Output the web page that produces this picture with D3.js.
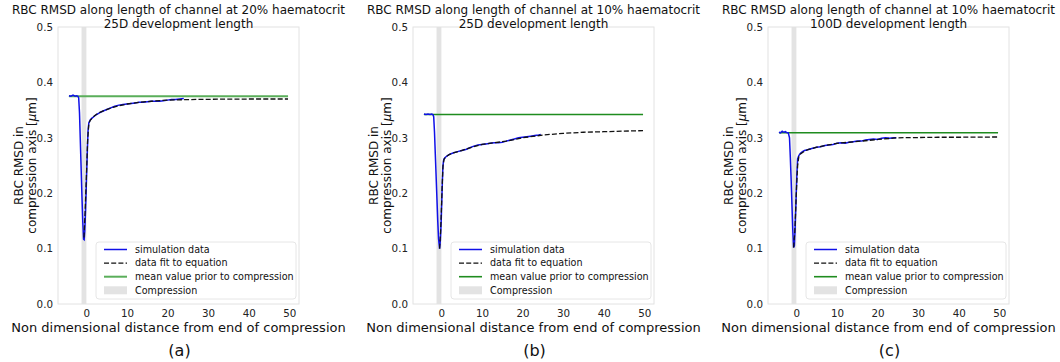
<!DOCTYPE html>
<html><head><meta charset="utf-8">
<script src="https://cdn.jsdelivr.net/npm/d3@7"></script>
<style>body{margin:0;background:#fff;} svg{display:block;font-family:"DejaVu Sans",sans-serif;}</style>
</head><body><svg id="c" width="1060" height="362"></svg>
<script>
// ---------- data ----------
const titles = [
  ["RBC RMSD along length of channel at 20% haematocrit", "25D development length"],
  ["RBC RMSD along length of channel at 10% haematocrit", "25D development length"],
  ["RBC RMSD along length of channel at 10% haematocrit", "100D development length"]
];
const panelLabels = ["(a)", "(b)", "(c)"];
const xTicks = [0, 10, 20, 30, 40, 50];
const yTicks = [0.0, 0.1, 0.2, 0.3, 0.4, 0.5];
const legendLabels = ["simulation data", "data fit to equation", "mean value prior to compression", "Compression"];
const compression = [-1.2, 0];          // compression region (x)
const meanRange = [-4.3, 49.7];         // extent of mean line

const meanA = 0.375, meanB = 0.342, meanC = 0.309;

const simXA = [-4.3,-3.8,-3.3,-2.8,-2.4,-2.1,-1.9,-1.7,-1.5,-1.3,-1.1,-0.9,-0.7,-0.55,-0.4,-0.2,0,0.2,0.4,0.6,0.9,1.3,1.8,2.5,3.2,4,5,6,7,8,9,10,11,12,13,14,15,16,17,18,19,20,21,22,23,24];
const simYA = [0.376,0.375,0.377,0.375,0.376,0.375,0.372,0.345,0.295,0.245,0.195,0.15,0.117,0.116,0.132,0.17,0.22,0.27,0.312,0.327,0.332,0.335,0.338,0.342,0.345,0.348,0.351,0.354,0.357,0.359,0.360,0.361,0.362,0.363,0.364,0.364,0.365,0.366,0.366,0.366,0.367,0.368,0.369,0.369,0.370,0.371];
const fitXA = [-0.6,-0.3,0,0.3,0.6,1,2,3,5,7,10,13,16,20,25,30,35,40,45,49.7];
const fitYA = [0.12,0.17,0.23,0.295,0.326,0.332,0.34,0.345,0.351,0.356,0.361,0.364,0.366,0.368,0.369,0.3695,0.3698,0.370,0.370,0.370];

const simXB = [-4.3,-3.8,-3.3,-2.8,-2.4,-2.1,-1.9,-1.7,-1.5,-1.3,-1.1,-0.9,-0.7,-0.45,-0.25,-0.05,0.15,0.35,0.5,0.65,1,1.5,2,3,4,5,6,7,8,9,10,11,12,13,14,15,16,17,18,19,20,21,22,23,24,24.5];
const simYB = [0.343,0.342,0.343,0.342,0.343,0.342,0.338,0.31,0.27,0.23,0.19,0.15,0.118,0.1,0.115,0.15,0.2,0.245,0.258,0.262,0.265,0.268,0.270,0.273,0.275,0.277,0.279,0.282,0.285,0.287,0.288,0.289,0.290,0.291,0.291,0.292,0.294,0.296,0.298,0.300,0.301,0.302,0.303,0.304,0.305,0.306];
const fitXB = [-0.45,-0.2,0,0.2,0.4,0.65,1,2,3,5,7,10,13,16,20,25,30,35,40,45,49.7];
const fitYB = [0.1,0.13,0.17,0.215,0.25,0.261,0.265,0.270,0.273,0.277,0.282,0.288,0.291,0.294,0.300,0.305,0.308,0.310,0.311,0.312,0.313];

const simXC = [-4.3,-3.9,-3.5,-3.1,-2.7,-2.3,-2.0,-1.7,-1.5,-1.3,-1.1,-0.9,-0.7,-0.5,-0.3,-0.1,0.1,0.3,0.6,1,1.5,2,3,4,5,6,7,8,9,10,11,12,13,14,15,16,17,18,19,20,21,22,23,24,24.6];
const simYC = [0.310,0.309,0.312,0.310,0.311,0.309,0.309,0.300,0.265,0.225,0.18,0.135,0.102,0.105,0.14,0.185,0.23,0.262,0.268,0.272,0.275,0.277,0.279,0.281,0.283,0.284,0.286,0.287,0.288,0.290,0.291,0.290,0.292,0.293,0.294,0.294,0.296,0.297,0.298,0.297,0.299,0.300,0.299,0.300,0.300];
const fitXC = [-0.7,-0.4,-0.2,0,0.3,0.6,1,2,3,5,7,10,13,16,20,25,30,35,40,45,49.7];
const fitYC = [0.102,0.13,0.165,0.205,0.25,0.266,0.271,0.276,0.279,0.283,0.286,0.290,0.292,0.294,0.297,0.300,0.3005,0.301,0.301,0.3012,0.3015];

const panels = [
  {mean: meanA, simX: simXA, simY: simYA, fitX: fitXA, fitY: fitYA, green: "#5aae5a", gw: 2},
  {mean: meanB, simX: simXB, simY: simYB, fitX: fitXB, fitY: fitYB, green: "#1f8c1f", gw: 1.6},
  {mean: meanC, simX: simXC, simY: simYC, fitX: fitXC, fitY: fitYC, green: "#1f8c1f", gw: 1.6}
];

// ---------- drawing ----------
const svg = d3.select("#c");
const lefts = [58, 413, 768];
const W = 241, pTop = 27, pBottom = 304;
const xDom = [-7.0, 52.4];

panels.forEach((p, i) => {
  const L = lefts[i];
  const x = d3.scaleLinear().domain(xDom).range([L, L + W]);
  const y = d3.scaleLinear().domain([0, 0.5]).range([pBottom, pTop]);
  const g = svg.append("g");

  // compression band
  g.append("rect").attr("x", x(compression[0])).attr("y", pTop)
    .attr("width", x(compression[1]) - x(compression[0])).attr("height", pBottom - pTop)
    .attr("fill", "#e3e3e3");

  // frame
  g.append("rect").attr("x", L).attr("y", pTop).attr("width", W).attr("height", pBottom - pTop)
    .attr("fill", "none").attr("stroke", "#e2e2e2").attr("stroke-width", 1);

  // axes
  const xa = g.append("g").attr("transform", `translate(0,${pBottom})`)
    .call(d3.axisBottom(x).tickValues(xTicks).tickSize(0).tickPadding(6).tickFormat(d3.format("d")));
  const ya = g.append("g").attr("transform", `translate(${L},0)`)
    .call(d3.axisLeft(y).tickValues(yTicks).tickSize(0).tickPadding(5).tickFormat(d3.format(".1f")));
  [xa, ya].forEach(a => {
    a.select(".domain").remove();
    a.selectAll("text").attr("font-size", 10.3).attr("fill", "#222").attr("font-family", "DejaVu Sans");
  });

  // mean line
  g.append("line").attr("x1", x(meanRange[0])).attr("x2", x(meanRange[1]))
    .attr("y1", y(p.mean)).attr("y2", y(p.mean))
    .attr("stroke", p.green).attr("stroke-width", p.gw);

  const line = d3.line().x(d => x(d[0])).y(d => y(d[1]));
  const sim = p.simX.map((v, k) => [v, p.simY[k]]);
  const fit = p.fitX.map((v, k) => [v, p.fitY[k]]);
  g.append("path").attr("d", line(sim)).attr("fill", "none").attr("stroke", "#1010e8").attr("stroke-width", 1.5);
  g.append("path").attr("d", line(fit)).attr("fill", "none").attr("stroke", "#111").attr("stroke-width", 1.3)
    .attr("stroke-dasharray", "5,2.2");

  // titles
  titles[i].forEach((t, k) => {
    g.append("text").attr("x", L + W / 2).attr("y", 14 + k * 14).attr("text-anchor", "middle")
      .attr("font-size", 12).attr("fill", "#111").text(t);
  });

  // y label (two lines)
  const cyMid = (pTop + pBottom) / 2;
  g.append("text").attr("transform", `translate(${L - 35},${cyMid}) rotate(-90)`)
    .attr("text-anchor", "middle").attr("font-size", 12).attr("fill", "#111").text("RBC RMSD in");
  const t2 = g.append("text").attr("transform", `translate(${L - 22},${cyMid}) rotate(-90)`)
    .attr("text-anchor", "middle").attr("font-size", 12).attr("fill", "#111");
  t2.append("tspan").text("compression axis [");
  t2.append("tspan").attr("font-style", "italic").text("μ");
  t2.append("tspan").text("m]");

  // x label
  g.append("text").attr("x", L + W / 2).attr("y", 332).attr("text-anchor", "middle")
    .attr("font-size", 13).attr("fill", "#111").text("Non dimensional distance from end of compression");

  // panel label
  g.append("text").attr("x", L + W / 2 + 1).attr("y", 356).attr("text-anchor", "middle")
    .attr("font-size", 16).attr("fill", "#111").text(panelLabels[i]);

  // legend
  const lx = L + W - 3 - 200, ly = 242;
  const lg = g.append("g").attr("transform", `translate(${lx},${ly})`);
  lg.append("rect").attr("width", 200).attr("height", 57).attr("rx", 3)
    .attr("fill", "#fff").attr("stroke", "#e6e6e6");
  legendLabels.forEach((lab, k) => {
    const cy = 7.5 + k * 13.6;
    if (k === 0) lg.append("line").attr("x1", 8).attr("x2", 31).attr("y1", cy).attr("y2", cy).attr("stroke", "#1010e8").attr("stroke-width", 1.5);
    if (k === 1) lg.append("line").attr("x1", 8).attr("x2", 31).attr("y1", cy).attr("y2", cy).attr("stroke", "#111").attr("stroke-width", 1.3).attr("stroke-dasharray", "5,2.2");
    if (k === 2) lg.append("line").attr("x1", 8).attr("x2", 31).attr("y1", cy).attr("y2", cy).attr("stroke", p.green).attr("stroke-width", p.gw);
    if (k === 3) lg.append("rect").attr("x", 8).attr("y", cy - 4).attr("width", 23).attr("height", 8).attr("fill", "#e3e3e3");
    lg.append("text").attr("x", 39).attr("y", cy).attr("dy", "0.35em").attr("font-size", 9.6)
      .attr("fill", "#111").text(lab);
  });
});
</script></body></html>
